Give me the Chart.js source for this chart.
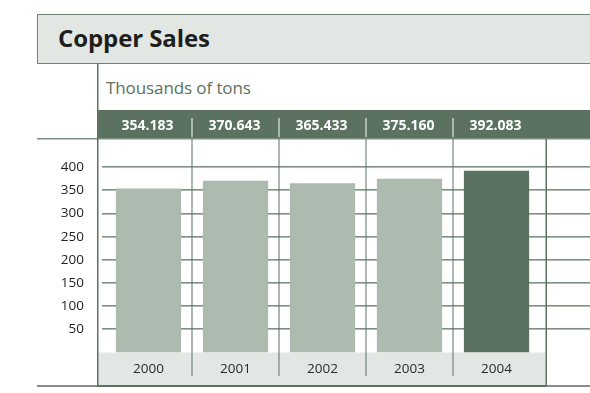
<!DOCTYPE html>
<html>
<head>
<meta charset="utf-8">
<script src="https://cdn.jsdelivr.net/npm/chart.js@4"></script>
<style>
  html, body { margin:0; padding:0; background:#fff; overflow:hidden; }
  #wrap { position:relative; width:590px; height:393px; font-family:"Open Sans", sans-serif; }
  #title { position:absolute; left:37px; top:14px; width:600px; height:48px; box-sizing:content-box;
    border:1px solid #6f8571; border-right:none; background:#e3e7e3;
    font-weight:bold; font-size:24px; line-height:46px; color:#1e1e1e; padding-left:20px; letter-spacing:-0.1px; }
  #sub { position:absolute; left:106px; top:76px; font-size:17px; color:#5b7260; letter-spacing:-0.1px; }
  #c { position:absolute; left:0; top:0; }
</style>
</head>
<body>
<div id="wrap">
  <div id="title">Copper Sales</div>
  <div id="sub">Thousands of tons</div>
  <canvas id="c" width="590" height="393"></canvas>
</div>
<script>
// data
const years = ['2000', '2001', '2002', '2003', '2004'];
const sales = [354.183, 370.643, 365.433, 375.160, 392.083];
const yTicks = [50, 100, 150, 200, 250, 300, 350, 400];
const barColors = ['#adbab0', '#adbab0', '#adbab0', '#adbab0', '#5b7260'];

const dark = '#5b7260';

// frame, bands and grid drawn around the chart area
const frame = {
  id: 'frame',
  beforeDraw(chart) {
    const ctx = chart.ctx;
    const ca = chart.chartArea;
    const x = chart.scales.x, y = chart.scales.y;
    const W = chart.width;
    const left = ca.left - 7, right = ca.right + 5.5;
    const bandTop = ca.top - 34, bandBot = ca.top - 6;
    const catBot = ca.bottom + 32.5;
    ctx.save();

    // rule under the value band
    ctx.fillStyle = '#7d8f80';
    ctx.fillRect(37, bandBot, W, 1.5);

    // value band
    ctx.fillStyle = dark;
    ctx.fillRect(left, bandTop, W - left, bandBot - bandTop);

    // category band
    ctx.fillStyle = '#e3e7e3';
    ctx.fillRect(left, ca.bottom, right - left, catBot - ca.bottom);

    // horizontal grid
    y.ticks.forEach(t => {
      const py = Math.round(y.getPixelForValue(t.value));
      ctx.fillStyle = '#7d9181';
      ctx.fillRect(left + 4, py - 1, W, 1);
      ctx.fillStyle = '#aebcb1';
      ctx.fillRect(left + 4, py, W, 1);
    });

    // column separators
    for (let i = 0; i < years.length - 1; i++) {
      const px = Math.round((x.getPixelForTick(i) + x.getPixelForTick(i + 1)) / 2) - 0.5;
      ctx.fillStyle = dark;
      ctx.fillRect(px, bandBot + 1, 1, catBot - 10 - bandBot);
      ctx.fillStyle = '#ffffff';
      ctx.fillRect(px, bandTop + 8, 1, bandBot - bandTop - 9);
    }

    // left and right frame lines
    ctx.fillStyle = dark;
    ctx.fillRect(left - 1, 63, 1.5, catBot + 2 - 63);
    ctx.fillRect(right, bandBot + 1, 1.5, catBot - bandBot);

    // bottom rule
    ctx.fillStyle = '#8a8a8a';
    ctx.fillRect(37, catBot, W, 2);
    ctx.fillStyle = dark;
    ctx.fillRect(left - 1, catBot, right - left + 2, 2);
    ctx.restore();
  },
  afterDraw(chart) {
    const ctx = chart.ctx;
    const ca = chart.chartArea;
    const x = chart.scales.x;
    ctx.save();
    ctx.fillStyle = '#ffffff';
    ctx.font = 'bold 14px "Open Sans", sans-serif';
    ctx.textAlign = 'center';
    ctx.textBaseline = 'middle';
    sales.forEach((v, i) => {
      ctx.fillText(v.toFixed(3), x.getPixelForTick(i) - 1, ca.top - 18);
    });
    ctx.restore();
  }
};

Chart.defaults.font.family = '"Open Sans", sans-serif';

new Chart(document.getElementById('c'), {
  type: 'bar',
  data: {
    labels: years,
    datasets: [{
      data: sales,
      backgroundColor: barColors,
      barPercentage: 0.75,
      categoryPercentage: 1
    }]
  },
  options: {
    responsive: false,
    animation: false,
    layout: { padding: { top: 144, right: 50, left: 0, bottom: 0 } },
    plugins: { legend: { display: false }, tooltip: { enabled: false } },
    scales: {
      x: {
        offset: true,
        grid: { display: false },
        border: { display: false },
        ticks: { color: '#2a2a2a', font: { size: 13.5 }, padding: 1 },
        afterFit: s => { s.height = 40.5; }
      },
      y: {
        min: 0,
        max: 450,
        afterBuildTicks: s => { s.ticks = yTicks.map(v => ({ value: v })); },
        grid: { display: false },
        border: { display: false },
        ticks: { color: '#1e1e1e', font: { size: 13.5 }, padding: 13 },
        afterFit: s => { s.width = 105; }
      }
    }
  },
  plugins: [frame]
});
</script>
</body>
</html>
